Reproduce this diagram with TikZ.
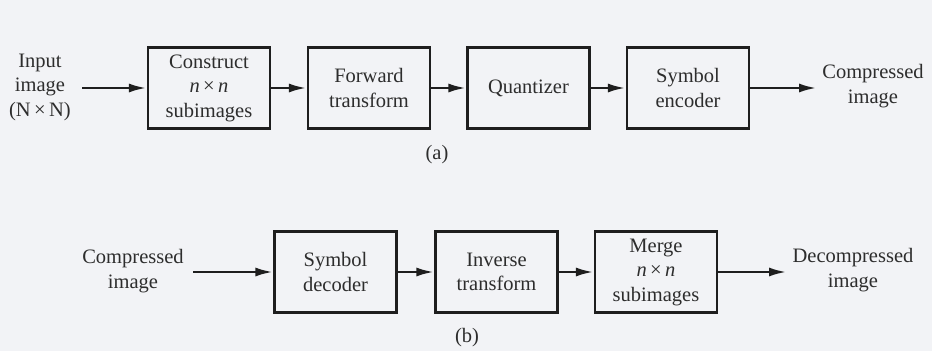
\documentclass[tikz,border=0pt]{standalone}
\usepackage{fontspec}
\setmainfont{Liberation Serif}
\usetikzlibrary{arrows.meta}
\definecolor{bgc}{RGB}{242,243,246}
\definecolor{ink}{RGB}{30,30,30}
\definecolor{tink}{RGB}{45,45,45}
\begin{document}
\begin{tikzpicture}[x=1pt,y=-1pt,
  blk/.style={draw=ink, line width=2.2pt, minimum width=122pt, minimum height=81pt, inner sep=0pt, align=center, font=\fontsize{20.5}{24.5}\selectfont, text=tink},
  lbl/.style={align=center, inner sep=0pt, font=\fontsize{20.5}{24.5}\selectfont, text=tink},
  arr/.style={draw=ink, line width=2.8pt, -{Latex[length=18pt,width=9pt]}}]
\fill[bgc] (0,0) rectangle (932,351);
\useasboundingbox (0,0) rectangle (932,351);
% (a)
\node[lbl] (in) at (40,87) {Input\\image\\(N\,×\,N)};
\node[blk] (b1) at (209,88) {Construct\\\textit{n}\,×\,\textit{n}\\subimages};
\node[blk] (b2) at (369,88) {Forward\\transform};
\node[blk] (b3) at (528.5,88) {Quantizer};
\node[blk] (b4) at (688,88) {Symbol\\encoder};
\node[lbl] (out) at (873,86) {Compressed\\image};
\node[lbl] (ca) at (437,155) {(a)};
\coordinate (s1) at (82,88);
\coordinate (e1) at (817,88);
\draw[arr] (s1) -- (b1.west);
\draw[arr] (b1.east) -- (b2.west);
\draw[arr] (b2.east) -- (b3.west);
\draw[arr] (b3.east) -- (b4.west);
\draw[arr] (b4.east) -- (e1);
% (b)
\node[lbl] (in2) at (133,271) {Compressed\\image};
\node[blk] (c1) at (335.5,272) {Symbol\\decoder};
\node[blk] (c2) at (496.5,272) {Inverse\\transform};
\node[blk] (c3) at (656,272) {Merge\\\textit{n}\,×\,\textit{n}\\subimages};
\node[lbl] (out2) at (853,270) {Decompressed\\image};
\node[lbl] (cb) at (467,338) {(b)};
\coordinate (s2) at (193,272);
\coordinate (e2) at (787,272);
\draw[arr] (s2) -- (c1.west);
\draw[arr] (c1.east) -- (c2.west);
\draw[arr] (c2.east) -- (c3.west);
\draw[arr] (c3.east) -- (e2);
\end{tikzpicture}
\end{document}
